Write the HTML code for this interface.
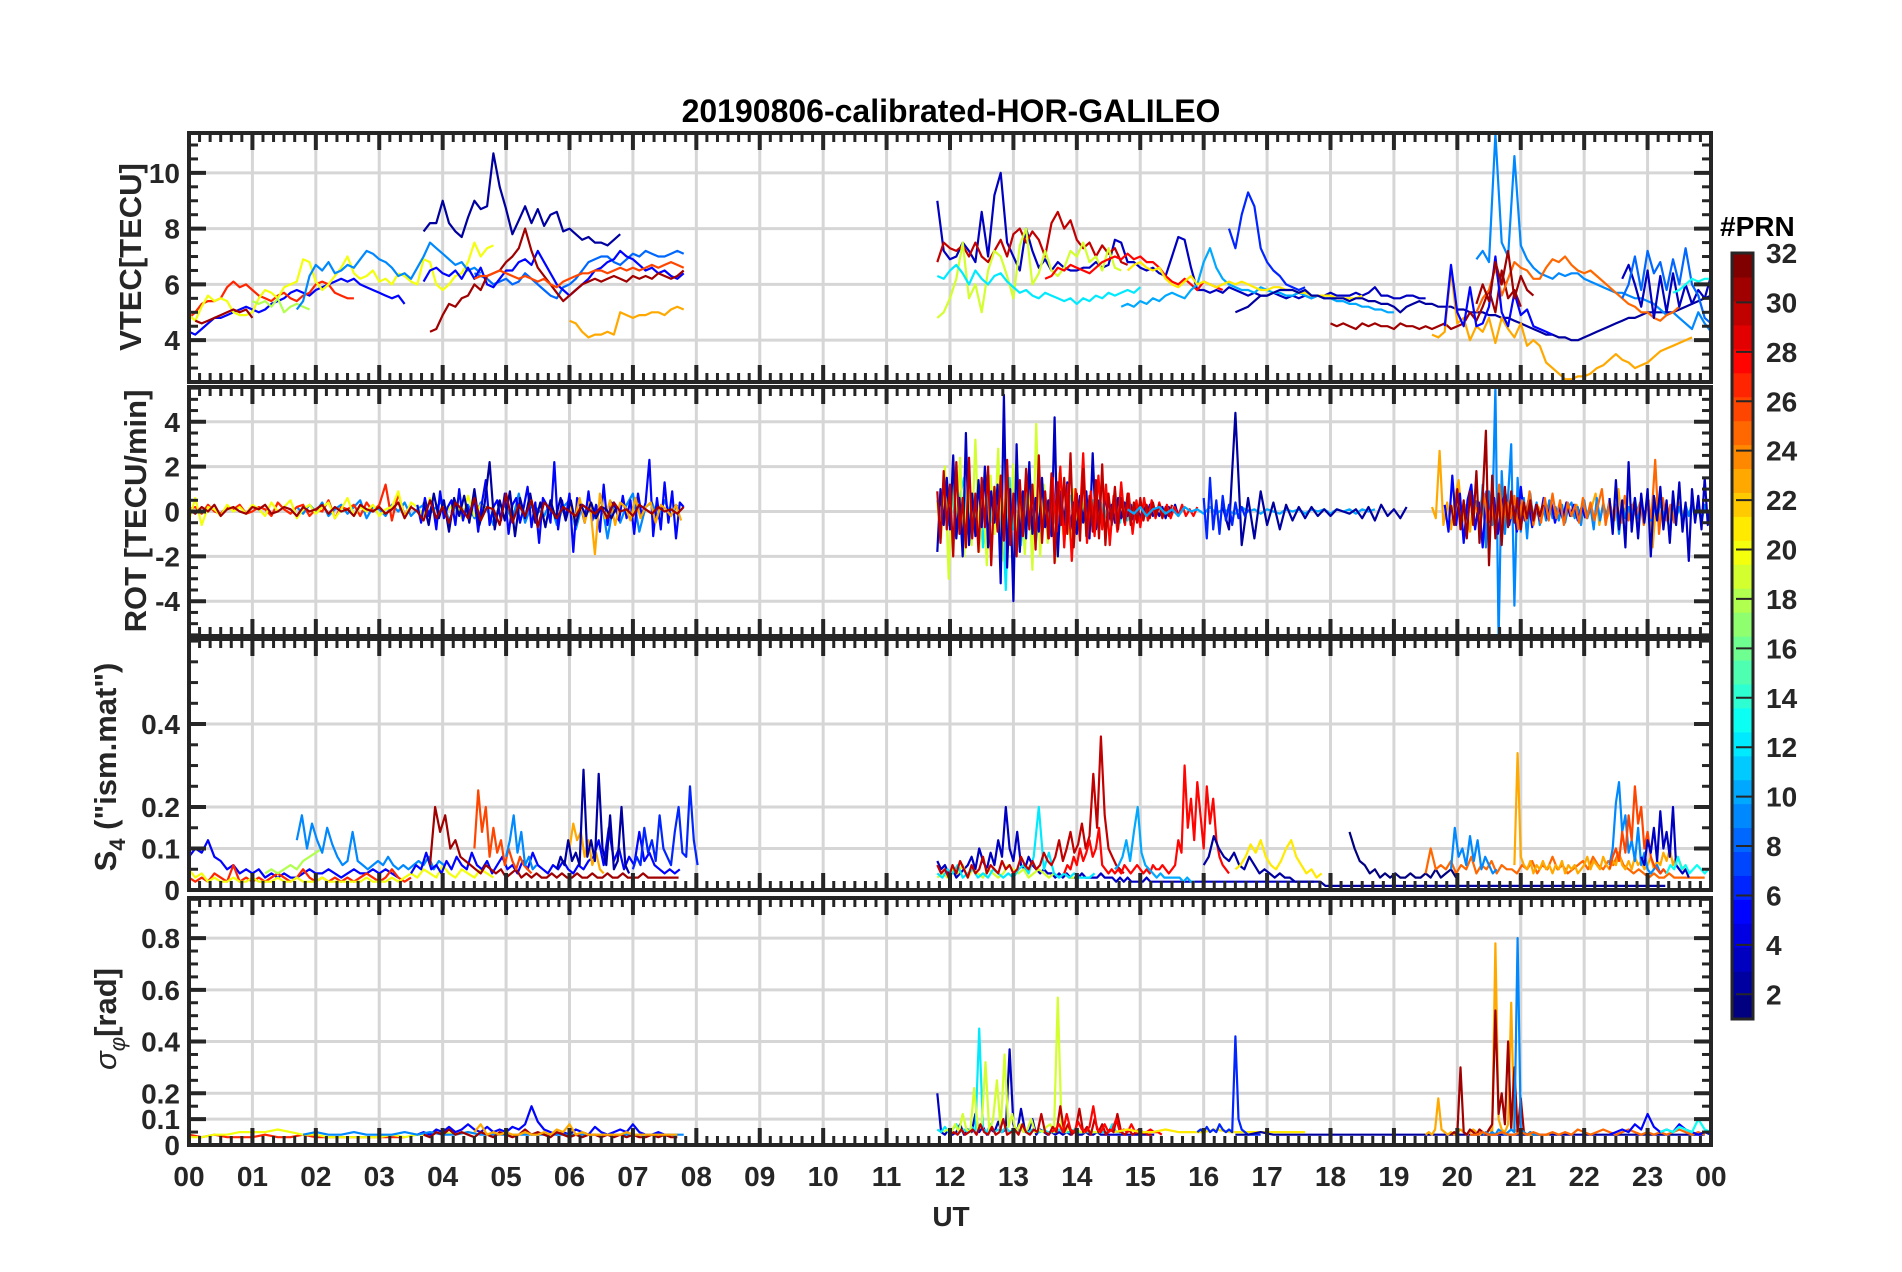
<!DOCTYPE html>
<html><head><meta charset="utf-8"><title>20190806-calibrated-HOR-GALILEO</title>
<style>
html,body{margin:0;padding:0;background:#fff;}
svg{display:block;font-family:"Liberation Sans",Arial,sans-serif;font-weight:bold;}
</style></head>
<body>
<svg id="chart" width="1902" height="1272" viewBox="0 0 1902 1272" xmlns="http://www.w3.org/2000/svg">
<rect x="0" y="0" width="1902" height="1272" fill="#fff"/>
<text x="951" y="122" text-anchor="middle" font-size="32" fill="#000">20190806-calibrated-HOR-GALILEO</text>
<g id="layer"></g>
</svg>
<script>
// ---------- DATA ----------
const hourLabels = ["00","01","02","03","04","05","06","07","08","09","10","11","12","13","14","15","16","17","18","19","20","21","22","23","00"];
const vtecTicks = [4,6,8,10];
const rotTicks = [-4,-2,0,2,4];
const s4Ticks = [0,0.1,0.2,0.4];
const sigTicks = [0,0.1,0.2,0.4,0.6,0.8];
const cbTicks = [2,4,6,8,10,12,14,16,18,20,22,24,26,28,30,32];

// VTEC series
const vtecPrn = [5,27,20,20,31,18,9,8,2,5,31,26,23, 3,30,19,12,28,10,6,21,2,31,23,9,25,5,3,8,13,31];
const vtecT0  = [0,0,0,3.3,0.1,1.0,1.7,4.5,3.7,3.7,3.8,4.5,6.0, 11.8,11.8,11.8,11.8,13.5,14.7,16.4,14.8,16.5,18.0,19.6,20.3,20.3,19.8,22.6,22.6,23.4,20.3];
const vtecDt  = [0.1,0.1,0.1,0.1,0.1,0.1,0.1,0.1,0.1,0.1,0.1,0.1,0.1, 0.1,0.1,0.1,0.1,0.1,0.1,0.1,0.1,0.1,0.1,0.1,0.1,0.1,0.1,0.1,0.1,0.1,0.1];
const vtecVals = [
 [4.3,4.2,4.4,4.6,4.8,4.8,4.9,5.0,5.1,5.2,5.1,5.0,5.1,5.3,5.4,5.5,5.7,5.8,5.7,5.6,5.8,5.9,6.0,6.1,6.2,6.1,6.2,6.0,5.9,5.8,5.7,5.6,5.5,5.6,5.3],
 [4.8,5.0,5.3,5.4,5.4,5.5,5.9,6.1,5.9,6.0,5.8,5.6,5.5,5.4,5.6,5.7,5.5,5.4,5.6,5.7,6.0,6.1,6.0,5.7,5.6,5.5,5.5],
 [4.9,4.7,5.2,5.6,5.4,5.5,5.4,5.0,4.9,4.9,5.0,5.5,5.8,5.7,5.5,5.9,6.0,6.1,6.9,6.8,6.1,5.8,6.0,6.3,6.6,7.0,6.4,6.2,6.3,6.5,6.1,6.2,6.0,6.4],
 [6.4,6.3,6.1,6.0,6.9,6.8,6.0,5.8,6.0,6.3,6.4,6.8,7.5,7.0,7.3,7.4],
 [4.7,4.6,4.7,4.8,4.9,5.0,5.1,5.0,5.1,4.8],
 [5.4,5.3,5.4,5.2,5.5,5.0,5.2,5.3,5.2,5.1],
 [5.1,5.4,6.3,6.7,6.5,6.8,6.4,6.5,6.7,6.6,6.9,7.2,7.1,6.9,6.8,6.6,6.3,6.4,6.2,6.6,7.0,7.5,7.3,7.1,6.9,6.7,6.8,6.5,6.6,6.4],
 [6.4,6.3,6.2,6.0,6.1,6.2,6.0,6.1,6.4,6.2,6.0,5.8,5.6,5.5,5.9,6.0,6.2,6.5,6.8,6.9,7.0,7.0,6.8,6.7,6.9,7.1,7.0,7.2,7.1,7.0,7.0,7.1,7.2,7.1],
 [7.9,8.2,8.2,9.0,8.2,7.9,7.7,8.4,9.0,8.7,8.8,10.7,9.5,8.7,7.8,8.3,8.8,8.2,8.7,8.1,8.5,8.6,7.9,8.0,7.8,7.6,7.7,7.5,7.5,7.4,7.6,7.8],
 [6.1,6.5,6.6,6.4,6.3,6.5,6.2,6.6,6.2,6.6,6.0,5.9,6.2,6.5,6.5,6.8,6.9,6.7,7.2,6.8,6.4,6.0,5.8,5.6,5.8,6.0,6.2,6.5,6.6,6.8,6.9,7.2,7.0,6.9,6.7,6.5,6.6,6.4,6.5,6.3,6.2,6.4],
 [4.3,4.4,4.9,5.3,5.2,5.5,5.6,6.0,5.8,6.3,6.4,6.5,6.8,7.0,7.3,8.0,7.2,6.6,6.3,6.0,5.7,5.4,5.6,5.8,6.0,6.1,6.2,6.1,6.2,6.3,6.2,6.1,6.3,6.2,6.3,6.2,6.4,6.3,6.2,6.3,6.5],
 [6.2,6.3,6.3,6.4,6.5,6.4,6.3,6.2,6.3,6.2,6.1,6.2,6.0,5.9,6.1,6.2,6.3,6.4,6.4,6.5,6.5,6.4,6.5,6.6,6.5,6.6,6.5,6.6,6.7,6.6,6.7,6.8,6.7,6.6],
 [4.7,4.6,4.3,4.1,4.2,4.2,4.3,4.2,5.0,4.9,4.8,4.9,4.9,5.0,5.0,4.9,5.1,5.2,5.1],
 [9.0,7.2,6.9,7.0,7.5,7.2,6.8,8.6,7.0,9.2,10.0,7.5,7.0,6.5,8.0,7.2,6.6,6.9,6.5,6.8,6.6,6.5,6.5,6.6,6.6,6.8,6.6,6.7,7.6,7.5,6.8,6.8,6.6,6.5,6.6,6.4,6.3,7.0,7.7,7.6,6.6,5.8,5.8,5.7,5.8,5.7,5.9,5.8,5.7,5.6,5.7,5.6,5.6,5.7,5.6,5.5,5.6,5.5,5.6,5.5,5.6,5.6,5.7,5.6,5.6,5.6,5.7,5.6,5.7,5.9,5.6,5.6,5.5,5.5,5.6,5.6,5.5,5.5],
 [6.8,7.5,7.3,7.2,7.4,7.0,7.5,7.0,6.8,7.2,7.6,7.0,7.8,8.0,7.5,7.9,7.6,7.0,8.2,8.6,8.0,8.3,7.6,7.3,7.5,7.0,7.4,7.1,7.3,6.8,6.7],
 [4.8,5.0,5.5,6.2,7.5,5.5,6.0,5.0,6.5,7.2,7.0,6.3,5.5,7.4,8.0,6.0,6.4,7.2,6.5,6.3,6.6,7.2,7.0,7.5,6.8,7.0,6.5,7.3,6.6,6.5],
 [6.3,6.2,6.5,6.7,6.4,6.0,6.5,6.2,6.0,6.3,6.4,6.1,5.9,5.7,5.8,5.6,5.5,5.7,5.6,5.5,5.4,5.5,5.3,5.5,5.4,5.6,5.5,5.7,5.6,5.7,5.8,5.7,5.9],
 [6.2,6.3,6.6,6.5,6.7,6.6,6.5,6.4,6.6,6.8,6.9,7.0,6.9,7.1,6.9,7.0,6.8,6.8,6.6,6.3,6.1,6.0,6.2,6.0,5.8,6.1,6.0,5.9,5.8],
 [5.2,5.3,5.2,5.4,5.3,5.5,5.4,5.6,5.7,5.6,5.5,5.8,6.0,6.8,7.3,6.6,6.2,6.0,5.9,5.8,5.8,5.7,5.9,5.8,5.7,5.7,5.6,5.6,5.7,5.6,5.5,5.6,5.5,5.5,5.4,5.4,5.3,5.3,5.2,5.2,5.1,5.1,5.0,5.0],
 [8.0,7.3,8.5,9.3,8.8,7.3,6.8,6.5,6.3,6.0,5.9,5.8,5.9],
 [6.5,6.7,6.8,6.6,6.5,6.6,6.2,6.0,5.9,6.1,6.3,6.0,6.1,6.0,5.9,6.0,6.1,6.0,6.1,6.0,5.9,5.8,5.8,5.9,5.9,5.8,5.8,5.7,5.7,5.6,5.6,5.6,5.6,5.5,5.5,5.5,5.5,5.6],
 [5.0,5.1,5.2,5.4,5.6,5.6,5.7,5.8,5.8,5.8,5.7,5.8,5.6,5.6,5.5,5.5,5.5,5.5,5.4,5.5,5.5,5.4,5.4,5.3,5.3,5.2,5.0,5.2,5.3,5.4,5.3,5.3,5.2,5.2,5.2,5.1,5.1,5.0,5.0,5.0,4.9,4.9,4.8,4.8,4.7,4.6,4.5,4.4,4.3,4.2,4.2,4.1,4.1,4.0,4.0,4.1,4.2,4.3,4.4,4.5,4.6,4.7,4.8,4.8,4.9,5.0,5.0,5.0,5.0,5.0,5.1,5.2,5.3,5.4,5.5,5.6],
 [4.6,4.5,4.6,4.5,4.4,4.6,4.5,4.6,4.5,4.5,4.4,4.6,4.5,4.5,4.4,4.5,4.4,4.5,4.6,4.4,4.5,4.6,5.0,4.7,5.2,5.8,5.0,6.5,5.5,5.8,5.2],
 [4.2,4.1,4.3,6.5,4.6,4.8,4.0,4.5,4.3,4.8,3.9,4.8,4.4,4.1,4.6,3.8,4.0,3.8,3.2,3.0,2.8,2.6,2.6,2.7,2.7,2.8,3.0,3.1,3.3,3.5,3.3,3.2,3.0,3.1,3.2,3.4,3.6,3.7,3.8,3.9,4.0,4.1],
 [6.9,7.2,6.8,11.4,7.5,7.0,10.6,7.4,6.9,6.6,6.4,6.3,6.2,6.4,6.3,6.4,6.4,6.2,6.1,6.0,5.9,5.8,5.7,5.7,5.6,5.5,5.5,5.4,5.3,5.1,4.9,5.0,4.8,4.6,4.4,5.0,4.6,4.3],
 [5.0,5.5,5.8,6.6,5.6,6.2,6.8,6.6,6.5,6.2,6.2,6.6,6.9,6.8,7.0,6.7,6.5,6.4,6.5,6.3,6.1,5.9,5.7,5.5,5.3,5.2,5.0,5.0,4.8,4.7,4.9,5.0,5.2],
 [4.5,6.7,5.0,4.5,5.9,4.5,4.6,5.2,7.0,5.0,4.5,5.7,4.9,5.1,4.5,4.4,4.3,4.2],
 [6.2,6.7,6.0,5.2,6.5,4.8,6.3,5.0,6.4,5.2,6.0,5.3,5.8,5.5,6.3],
 [5.5,6.0,7.0,5.8,7.2,6.4,6.8,5.8,6.9,6.0,7.3,6.0,5.6,4.8,4.6],
 [5.7,5.8,6.0,6.2,6.1,6.2,6.2],
 [5.3,6.0,5.4,6.8,6.0,7.2,5.5,6.3,5.8,5.6]
];

// ROT series
const rotPrn = [9,27,20,5,23,2,31, 12,19,3,28,30, 10,2,6, 23,9,5,25,31,3];
const rotT0  = [1.7,0,0,3.6,6.0,3.7,0, 11.8,11.8,11.8,13.5,11.8, 14.8,16.3,16.0, 19.6,20.3,19.8,20.3,19.9,22.4];
const rotDt  = [0.1,0.1,0.1,0.06,0.08,0.08,0.1, 0.06,0.06,0.05,0.06,0.05, 0.1,0.1,0.05, 0.06,0.05,0.06,0.06,0.05,0.05];
const rotVals = [
 [0.2,-0.1,0.3,0.0,0.4,-0.2,0.1,0.3,-0.1,0.2,0.5,-0.3,0.2,0.1,-0.2,0.3,0.0,0.4,-0.2,0.1,0.3,-0.1,0.2,0.5,-0.4,0.2,0.0,0.3,-0.3,0.4,0.1,-0.6,0.3,0.2,-0.4,0.8,-0.5,0.3,0.1,-0.2,0.4,-0.6,0.2,0.5,-0.8,0.3,0.1,-0.3,0.6,-1.2,0.4,-0.5,0.3,0.8,-0.9,0.2,0.4,-0.3,0.5,-0.2,0.3],
 [0.1,0.2,-0.1,0.3,0.0,-0.1,0.2,0.1,0.3,-0.1,0.0,0.2,0.1,-0.2,0.4,0.1,-0.1,0.2,0.3,-0.2,0.1,0.0,0.5,-0.3,0.2,0.1,0.3,-0.2,0.4,0.0,0.3,1.2,-0.4,0.8,-0.2,0.3],
 [-0.4,0.6,-0.6,0.2,0.1,-0.2,0.3,0.0,0.2,-0.1,0.3,0.1,-0.2,0.4,0.0,0.2,0.5,-0.3,0.1,0.3,-0.1,0.2,0.4,-0.3,0.1,0.6,-0.2,0.2,0.0,0.3,-0.2,0.1,0.2,0.9,-0.3,0.4,0.2,-0.2,0.6,-0.4,0.3,0.1,0.5,-0.3,0.7,-0.2,0.3,0.1,0.2],
 [0.3,-0.5,0.6,-0.2,0.4,-0.8,0.9,-0.3,0.2,0.5,-0.6,1.0,-0.4,0.3,-0.2,0.6,-0.9,0.4,1.4,-0.6,0.2,0.5,-0.4,0.8,-1.0,0.3,0.6,-0.5,0.2,1.1,-0.7,0.4,-1.4,0.6,0.3,-0.5,2.2,-0.8,0.5,-0.3,0.8,-1.8,0.6,0.2,-0.5,0.9,-0.4,0.3,-0.9,1.2,-0.6,0.4,0.2,-0.4,0.7,-0.3,0.5,-1.0,0.8,-0.2,0.4,2.3,-1.1,0.6,-0.8,1.3,-0.5,0.9,-1.2,0.4,0.2],
 [0.3,-0.4,0.6,-0.5,0.4,-1.9,0.8,-0.3,0.5,-0.6,0.4,0.2,-0.4,0.6,-0.3,0.2,0.4,-0.5,0.3,0.1,-0.2,0.3,-0.4],
 [0.4,-0.6,0.8,-0.3,0.5,-0.9,0.6,-0.2,0.7,-0.5,1.0,-0.6,0.3,2.2,-0.8,0.5,-0.4,0.9,-1.1,0.6,-0.3,0.8,-0.5,0.4,-0.7,0.5,-0.3,0.6,-0.4,0.5,-0.6,0.3,-0.2,0.4,-0.3,0.2,0.1,-0.3,0.2],
 [0.1,-0.1,0.2,0.0,0.3,-0.2,0.1,0.2,0.0,-0.1,0.2,0.1,0.3,-0.1,0.0,0.2,0.1,-0.2,0.2,0.0,0.1,0.3,-0.1,0.2,0.0,0.1,-0.2,0.3,0.1,0.0,0.2,-0.1,0.1,0.4,-0.3,0.2,0.0,-0.4,0.5,-0.3,0.2,-0.5,0.4,0.1,-0.3,0.6,-0.4,0.2,0.1,-0.6,0.8,-0.5,0.3,-0.2,0.5,-0.7,0.4,0.1,-0.3,0.2,0.0,-0.2,0.3,0.1,-0.1,0.2,-0.3,0.4,0.0,0.1,-0.2,0.3,0.1,-0.1,0.2,0.0,0.1,-0.1,0.2],
 [0.5,-0.8,1.0,-0.6,0.9,-1.2,0.7,1.5,-1.0,0.6,-0.4,1.2,-1.6,0.8,-0.5,1.0,-0.9,0.6,-3.5,1.5,-0.8,1.2,-1.5,0.9,-0.6,1.1,-1.3,0.5,0.8,-0.7,0.9,-0.5,0.6,-0.8,0.4,0.7,-0.6,0.5,-0.4,0.6,-0.3,0.5,-0.7,0.4,-0.3,0.5,-0.2,0.4,-0.5,0.3,-0.4,0.3,-0.2,0.3],
 [0.4,-1.2,2.0,-3.0,1.6,-0.8,2.4,-2.0,1.2,-1.5,3.2,-1.8,0.9,-2.4,1.6,-1.0,2.8,-2.2,1.3,-0.9,2.1,-1.6,0.8,-1.9,1.4,-2.6,3.9,-2.0,1.2,-1.4,0.9,-2.2,1.7,-1.0,0.6,-1.3,1.0,-0.8,0.5,-0.6],
 [-1.8,1.0,-0.6,1.5,-0.8,2.5,-1.2,0.6,-2.0,3.5,-1.5,0.8,-1.1,1.4,-0.7,2.0,-1.6,0.9,-0.5,1.2,-3.2,5.2,-2.5,1.0,-4.0,3.0,-1.8,0.9,-1.2,2.2,-1.0,0.6,-0.9,1.5,-0.7,0.5,-1.1,4.2,-2.0,0.9,-0.6,1.3,-0.8,0.4,-1.0,0.7,-0.5,0.9,-1.2,2.6,-0.8,0.5,-0.6,0.8,-0.4,0.3,-0.5,0.6,-0.3,0.4,-0.2,0.3,-0.4,0.2,-0.3,0.2,-0.2,0.3,-0.2,0.1,-0.2,0.2,-0.3,0.2,-0.1,0.3,-0.2,0.1],
 [0.8,-1.2,1.5,-0.9,2.0,-1.6,1.2,-2.2,1.0,-0.7,2.6,-1.4,0.9,-1.1,1.6,-0.8,1.2,-1.5,0.7,-0.9,1.3,-0.6,0.8,-1.0,0.5,-0.7,0.6,-0.4,0.5,-0.3,0.4,-0.2,0.3,-0.3,0.2,-0.2,0.3,-0.2,0.1,-0.2,0.2],
 [0.9,-1.4,1.8,-0.8,1.2,-2.0,2.2,-1.0,0.6,-1.6,2.4,-1.2,0.8,-1.8,1.5,-0.7,2.0,-2.4,1.1,-0.9,1.6,-1.3,2.3,-1.5,0.8,-2.0,1.4,-1.1,1.9,-0.8,1.2,-1.7,2.5,-1.4,0.9,-1.2,1.7,-2.3,1.3,-0.6,1.5,-1.0,2.6,-1.6,0.8,-1.3,1.9,-1.1,0.7,-0.9,1.4,-1.2,2.1,-1.5,0.8,-0.6,1.1,-0.8,0.6,-0.5,0.8,-0.6,0.4,-0.5,0.6,-0.4,0.3,-0.3,0.4,-0.2,0.3,-0.3,0.2,-0.2,0.3],
 [0.1,-0.1,0.2,-0.2,0.1,0.2,-0.1,0.1,-0.2,0.2,0.0,0.1,-0.1,0.2,-0.1,0.1,0.0,-0.1,0.2,0.0,0.1,-0.1,0.1,0.0,-0.1,0.1,0.0,0.1,-0.1,0.1,0.0,0.1,-0.1,0.1,0.0,0.1,-0.1,0.1,0.0,0.1],
 [0.2,-0.8,4.4,-1.5,0.6,-1.2,0.9,-0.6,0.4,-0.8,0.3,-0.4,0.2,-0.3,0.2,-0.2,0.1,-0.2,0.1,0.0,-0.1,0.1,-0.3,0.2,-0.4,0.3,-0.2,0.1,-0.3,0.2],
 [0.6,-1.2,1.5,-0.8,0.5,-1.0,0.7,-0.4,0.3,-0.6,0.4,-0.3,0.2,-0.2,0.1],
 [0.2,-0.3,2.7,-0.6,0.4,-0.8,0.6,1.4,-0.5,0.3,-0.9,0.7,-0.3,0.5,-0.6,0.4,-0.2,0.3,-0.4,0.2,0.5,-0.3,0.2,-0.4,0.3,-0.2,0.4,-0.3,0.2,-0.2,0.3,-0.1,0.2,-0.3,0.2,-0.2,0.1,-0.2,0.3,-0.1,0.2,-0.2,0.2,0.8,-0.6,0.4,-0.3,0.2,-0.4,1.0,-0.5,0.2,-0.3,0.4,-0.6,0.3,-0.2,0.5,-1.6,0.6,-0.4,0.3,-0.5,0.2,-0.3,0.4,-0.2],
 [0.5,-0.8,1.2,-1.6,0.9,-0.6,5.6,-5.8,1.8,-1.0,0.7,3.0,-4.2,1.5,-0.9,0.6,-1.2,0.8,-0.5,0.4,-0.6,0.3,-0.4,0.5,-0.3,0.2,-0.4,0.3,-0.5,0.2,0.4,-0.3,0.2,-0.6,0.5,-0.3,0.2,-0.8,0.6,-0.4,0.3,-0.2,0.5,-0.6,0.3,-1.0,0.4,-0.3,0.2,-0.5,0.6,-0.3,0.4,-0.2,0.3,-0.4,0.2,-0.3,0.4,-0.2,0.3,-1.2,0.5,-0.3,0.2,-0.4,0.3,-0.2,0.4,-0.3,0.2,-0.5,0.3,-0.2],
 [0.3,-0.9,1.6,-0.6,0.8,-1.4,0.5,1.2,-0.8,0.4,-1.6,0.9,-0.5,0.6,-1.0,0.4,0.8,-0.6,0.3,-0.9,1.1,-0.4,0.5,-0.7,0.3,-0.4,0.6,-0.3,0.4,-0.5,0.2,-0.3,0.4,-0.2,0.3,-0.4,0.2,-0.3],
 [0.2,-0.4,0.8,-0.5,0.3,-0.9,1.2,-0.6,0.4,-0.3,0.7,-0.8,0.5,-0.4,0.9,-0.6,0.3,-0.5,0.6,-0.4,0.8,-0.3,0.5,-0.6,0.4,-0.2,0.3,-0.5,0.6,-0.3,0.4,-0.4,0.3,1.0,-0.6,0.5,-0.4,0.3,-0.5,0.7,-0.4,0.3,-0.2,0.4,-0.6,0.5,-0.3,2.3,-1.0,0.6,-0.4,0.3,-0.5,0.4],
 [0.3,-0.6,1.0,-0.8,0.5,-1.2,0.9,-0.6,1.8,-1.4,0.7,3.6,-2.4,1.6,-1.2,0.8,-1.5,1.1,-0.7,0.9,-0.5,0.6,-0.8,0.4,-0.3,0.5,-0.4,0.3,-0.2,0.3],
 [0.6,-1.0,1.4,-0.8,0.5,-1.6,2.2,-0.9,0.6,-1.2,0.8,-0.5,1.0,-2.0,0.7,-0.4,1.1,-0.8,0.5,-1.4,0.9,-0.6,1.3,-0.9,0.4,-2.2,1.0,-0.5,0.7,-0.8,1.5,-0.6,0.4,-1.1,0.8,-0.4,0.6,-0.9,0.5,-0.3,0.7,-0.6,0.4,-1.0,0.6,-0.3,0.5,-0.4,0.3,-0.6,0.4,-0.2]
];

// S4 series
const s4Prn = [5,27,20,18,9,5,31,26,9,23,2,6, 3,19,12,30,28,10,2,21,1,25,9,23,9,26,3,13];
const s4T0  = [0,0,0,1.2,1.7,3.5,3.8,4.5,5.0,6.0,5.8,7.0, 11.8,11.8,11.8,11.8,13.8,14.6,16.0,16.5,18.3,19.5,19.9,20.9,22.4,22.4,22.9,23.3];
const s4Dt  = [0.1,0.1,0.1,0.1,0.08,0.08,0.08,0.06,0.06,0.06,0.06,0.06, 0.06,0.08,0.08,0.06,0.05,0.06,0.08,0.08,0.08,0.08,0.06,0.05,0.05,0.05,0.05,0.06];
const s4Vals = [
 [0.08,0.10,0.09,0.12,0.08,0.07,0.05,0.06,0.04,0.05,0.04,0.05,0.03,0.04,0.03,0.04,0.03,0.03,0.04,0.05,0.04,0.04,0.05,0.04,0.03,0.04,0.05,0.04,0.04,0.05,0.04,0.05,0.04,0.03],
 [0.03,0.02,0.03,0.02,0.04,0.03,0.02,0.06,0.02,0.03,0.02,0.03,0.02,0.03,0.04,0.03,0.02,0.03,0.05,0.03,0.02,0.03,0.02,0.03,0.02,0.03,0.02,0.03,0.04,0.03,0.02,0.03,0.05,0.03,0.02,0.03],
 [0.05,0.03,0.04,0.02,0.03,0.02,0.02,0.03,0.02,0.02,0.03,0.02,0.02,0.02,0.03,0.02,0.02,0.03,0.02,0.02,0.02,0.03,0.02,0.02,0.02,0.02,0.02,0.02,0.03,0.02,0.02,0.02,0.03,0.02,0.03,0.04,0.03,0.05,0.04,0.03,0.06,0.04,0.03,0.05,0.04,0.03,0.05,0.04,0.03],
 [0.04,0.05,0.04,0.05,0.06,0.05,0.07,0.08,0.09,0.10],
 [0.12,0.18,0.10,0.16,0.12,0.09,0.15,0.11,0.08,0.06,0.07,0.14,0.07,0.06,0.05,0.06,0.07,0.06,0.08,0.06,0.05,0.06,0.05,0.06,0.07,0.06,0.08,0.05,0.07,0.06],
 [0.04,0.06,0.05,0.09,0.05,0.06,0.04,0.07,0.05,0.08,0.06,0.05,0.09,0.06,0.05,0.07,0.04,0.06,0.08,0.05,0.06,0.04,0.07,0.05,0.09,0.06,0.05,0.04,0.06,0.05,0.07,0.05,0.04,0.06,0.05,0.07,0.08,0.12,0.06,0.15,0.07,0.10,0.05,0.08,0.06,0.14,0.07,0.09,0.06,0.05,0.04,0.05,0.04,0.05],
 [0.06,0.20,0.14,0.18,0.10,0.12,0.08,0.07,0.06,0.05,0.04,0.06,0.05,0.04,0.05,0.03,0.04,0.05,0.03,0.04,0.03,0.04,0.03,0.03,0.04,0.03,0.04,0.03,0.03,0.04,0.03,0.03,0.04,0.03,0.03,0.04,0.03,0.03,0.04,0.03,0.03,0.03,0.04,0.03,0.03,0.03,0.03,0.03,0.03,0.03],
 [0.10,0.24,0.14,0.20,0.08,0.15,0.09,0.12,0.06,0.10,0.07,0.05,0.08,0.06,0.05,0.04],
 [0.08,0.12,0.18,0.09,0.14,0.06,0.08,0.05,0.06],
 [0.10,0.16,0.12,0.14,0.08,0.12,0.06,0.09,0.05,0.04],
 [0.05,0.08,0.06,0.12,0.07,0.09,0.06,0.29,0.08,0.12,0.07,0.28,0.10,0.06,0.18,0.05,0.07,0.20,0.06,0.04],
 [0.05,0.08,0.06,0.15,0.09,0.12,0.07,0.18,0.10,0.08,0.06,0.14,0.20,0.09,0.08,0.25,0.12,0.06],
 [0.07,0.05,0.06,0.04,0.05,0.03,0.04,0.05,0.06,0.08,0.05,0.10,0.07,0.05,0.09,0.06,0.12,0.08,0.20,0.10,0.07,0.14,0.06,0.05,0.08,0.06,0.05,0.04,0.05,0.04,0.04,0.03,0.04,0.03,0.04,0.03,0.03,0.03,0.04,0.03,0.03,0.03,0.03,0.04,0.03,0.03,0.03,0.02,0.03,0.02,0.03,0.02,0.02,0.02,0.02,0.03,0.02,0.02,0.02,0.02,0.02,0.02,0.02,0.02,0.02,0.02,0.02,0.02,0.02,0.02,0.02,0.02,0.02,0.02,0.02,0.02,0.02,0.02,0.02,0.02,0.02,0.02,0.02,0.02,0.02,0.02,0.02,0.02,0.02,0.02,0.02,0.02,0.02,0.02,0.02,0.02,0.02,0.02,0.02,0.02],
 [0.03,0.04,0.03,0.05,0.04,0.06,0.03,0.05,0.04,0.03,0.05,0.04,0.03,0.04,0.06,0.05,0.04,0.05,0.03,0.04,0.05,0.04,0.03,0.04,0.03,0.04,0.03,0.03],
 [0.04,0.03,0.05,0.04,0.06,0.03,0.04,0.05,0.03,0.04,0.03,0.05,0.04,0.03,0.04,0.03,0.05,0.06,0.04,0.08,0.20,0.05,0.09,0.04,0.03,0.04,0.03,0.04,0.03,0.03,0.03,0.04],
 [0.06,0.04,0.05,0.03,0.06,0.04,0.07,0.05,0.03,0.06,0.04,0.05,0.08,0.04,0.06,0.05,0.04,0.07,0.05,0.06,0.04,0.05,0.08,0.06,0.05,0.07,0.05,0.06,0.09,0.07,0.06,0.08,0.12,0.07,0.10,0.14,0.09,0.11,0.16,0.10,0.13,0.28,0.15,0.37,0.18,0.10,0.08,0.06,0.05,0.04],
 [0.04,0.06,0.05,0.08,0.06,0.10,0.07,0.09,0.12,0.08,0.10,0.15,0.06,0.05,0.04,0.05,0.04,0.05,0.04,0.06,0.05,0.04,0.05,0.06,0.05,0.04,0.05,0.04,0.06,0.05,0.05,0.06,0.05,0.04,0.05,0.06,0.12,0.09,0.30,0.15,0.22,0.12,0.26,0.18,0.10,0.25,0.16,0.22,0.12,0.08,0.06,0.05,0.04],
 [0.05,0.06,0.08,0.12,0.07,0.14,0.20,0.09,0.06,0.05,0.04,0.03,0.04,0.03,0.03,0.03,0.03,0.03,0.02,0.03,0.02,0.02],
 [0.06,0.08,0.13,0.10,0.08,0.07,0.09,0.06,0.05,0.08,0.06,0.04,0.05,0.04,0.03,0.04,0.03,0.03,0.02,0.02,0.02,0.02,0.02,0.02,0.01,0.01,0.01,0.01,0.01,0.01,0.01,0.01,0.01,0.01,0.01,0.01,0.01,0.01,0.01,0.01,0.01,0.01,0.01,0.01,0.01,0.01,0.01,0.01,0.01,0.01,0.01,0.01,0.01,0.01,0.01,0.01,0.01,0.01,0.01,0.01,0.01,0.01,0.01,0.01,0.01,0.01,0.01,0.01,0.01,0.01,0.01,0.01,0.01,0.01,0.01,0.01,0.01,0.01,0.01,0.01,0.01,0.01,0.01,0.01,0.01,0.01,0.01,0.01,0.01,0.01,0.01,0.01],
 [0.05,0.06,0.08,0.11,0.09,0.12,0.08,0.06,0.05,0.07,0.10,0.12,0.08,0.06,0.04,0.05,0.03,0.04],
 [0.14,0.10,0.07,0.06,0.04,0.05,0.03,0.04,0.03,0.04,0.03,0.03,0.04,0.03,0.03,0.04,0.03,0.05,0.03,0.04,0.05,0.03],
 [0.04,0.10,0.05,0.06,0.05,0.07,0.04,0.06,0.05,0.08,0.04,0.06,0.05,0.07,0.04,0.06,0.05,0.05,0.04,0.06,0.05,0.07,0.04,0.06,0.05,0.08,0.05,0.06,0.04,0.05,0.06,0.07,0.05,0.08,0.06,0.05,0.07,0.06,0.09,0.06,0.05,0.04,0.05,0.04,0.03,0.04,0.03,0.03,0.04,0.03,0.03,0.03,0.03,0.03,0.03,0.03],
 [0.05,0.15,0.08,0.10,0.06,0.13,0.07,0.12,0.05,0.08,0.06,0.04,0.05],
 [0.06,0.33,0.08,0.06,0.05,0.07,0.04,0.06,0.05,0.07,0.05,0.06,0.04,0.06,0.05,0.07,0.04,0.06,0.05,0.06,0.04,0.05,0.06,0.08,0.05,0.07,0.06,0.05,0.08,0.06,0.05,0.07,0.06,0.09,0.06,0.05,0.07,0.05,0.08,0.06,0.07,0.05,0.06,0.08,0.05,0.07,0.06,0.09,0.07,0.10,0.06,0.08,0.07,0.05,0.06],
 [0.06,0.10,0.21,0.26,0.14,0.18,0.09,0.12,0.07,0.15,0.06,0.09,0.05,0.04,0.05,0.06,0.04,0.05],
 [0.05,0.08,0.10,0.07,0.14,0.09,0.18,0.12,0.25,0.16,0.20,0.10,0.14,0.08,0.06,0.05,0.04,0.05,0.04],
 [0.08,0.06,0.12,0.09,0.15,0.07,0.19,0.10,0.14,0.08,0.20,0.06,0.05,0.04,0.05,0.03],
 [0.04,0.06,0.05,0.08,0.05,0.06,0.04,0.05,0.06,0.05,0.04,0.05]
];

// Sigma-phi series
const sigPrn = [27,20,5,9,31,23, 3,12,19,30,28,21,6,2,23,31,9,25,5,13];
const sigT0  = [0,0,3.6,1.8,3.7,4.5, 11.8,11.8,11.9,12.0,13.6,14.6,15.9,16.5,19.5,19.9,20.4,20.2,22.4,23.2];
const sigDt  = [0.2,0.2,0.1,0.2,0.1,0.1, 0.06,0.06,0.06,0.06,0.06,0.2,0.05,0.2,0.05,0.05,0.05,0.1,0.1,0.1];
const sigVals = [
 [0.04,0.03,0.04,0.03,0.03,0.03,0.04,0.03,0.03,0.04,0.03,0.03,0.03,0.03,0.03,0.03,0.03,0.03],
 [0.03,0.03,0.04,0.04,0.05,0.05,0.05,0.06,0.05,0.04,0.04,0.03,0.03,0.03,0.03,0.03,0.04,0.03,0.04,0.04,0.05,0.04,0.05,0.04],
 [0.04,0.05,0.04,0.06,0.05,0.07,0.05,0.06,0.08,0.06,0.05,0.07,0.05,0.06,0.05,0.07,0.06,0.08,0.15,0.09,0.06,0.05,0.04,0.05,0.04,0.06,0.05,0.04,0.07,0.05,0.04,0.05,0.06,0.05,0.08,0.05,0.04,0.04,0.05,0.04,0.04,0.04],
 [0.04,0.05,0.04,0.04,0.05,0.04,0.04,0.04,0.05,0.04,0.05,0.04,0.04,0.05,0.04,0.04,0.04,0.04,0.04,0.04,0.04,0.04,0.04,0.04,0.04,0.04,0.04,0.04,0.04,0.04,0.04],
 [0.04,0.03,0.05,0.04,0.06,0.04,0.05,0.04,0.03,0.05,0.04,0.03,0.05,0.04,0.03,0.04,0.06,0.04,0.05,0.04,0.03,0.05,0.04,0.03,0.04,0.03,0.04,0.04,0.03,0.04,0.03,0.04,0.03,0.04,0.03,0.03,0.04,0.03,0.04,0.03,0.03],
 [0.05,0.08,0.04,0.05,0.04,0.05,0.04,0.04,0.05,0.04,0.04,0.05,0.04,0.06,0.05,0.08,0.04,0.05,0.04,0.04,0.04,0.04,0.04,0.04,0.05,0.04,0.04,0.04,0.04,0.04,0.04,0.04,0.04],
 [0.20,0.05,0.04,0.06,0.04,0.05,0.08,0.04,0.06,0.05,0.12,0.05,0.07,0.04,0.06,0.05,0.09,0.05,0.06,0.37,0.08,0.05,0.14,0.06,0.05,0.10,0.04,0.06,0.05,0.04,0.05,0.04,0.05,0.04,0.05,0.04,0.05,0.04,0.04,0.05,0.04,0.04,0.05,0.04,0.04,0.04,0.04,0.04,0.04,0.04,0.04,0.04,0.04,0.04,0.04,0.04,0.04,0.04],
 [0.06,0.05,0.07,0.05,0.06,0.08,0.05,0.06,0.05,0.07,0.05,0.45,0.06,0.05,0.08,0.05,0.06,0.05,0.07,0.05,0.06,0.05,0.06,0.05,0.05,0.06,0.05,0.05,0.06,0.05,0.05,0.05,0.06,0.05,0.05,0.05,0.06,0.05,0.05,0.05,0.05,0.05,0.05,0.05,0.05,0.05,0.08,0.05,0.05,0.05],
 [0.05,0.06,0.05,0.08,0.05,0.12,0.06,0.05,0.22,0.06,0.08,0.32,0.05,0.10,0.25,0.06,0.35,0.07,0.12,0.05,0.08,0.05,0.06,0.10,0.05,0.06,0.05,0.07,0.08,0.05,0.57,0.06,0.05,0.07,0.05,0.06,0.05,0.05,0.06,0.05,0.05,0.05],
 [0.04,0.05,0.04,0.06,0.04,0.05,0.06,0.04,0.08,0.05,0.04,0.07,0.04,0.05,0.10,0.04,0.05,0.06,0.04,0.08,0.05,0.04,0.06,0.05,0.12,0.05,0.04,0.07,0.05,0.15,0.05,0.08,0.04,0.06,0.14,0.05,0.07,0.04,0.10,0.05,0.08,0.04,0.06,0.05,0.12,0.05,0.04,0.06,0.04,0.05,0.04,0.05,0.04,0.04],
 [0.05,0.06,0.08,0.05,0.12,0.06,0.05,0.09,0.06,0.05,0.07,0.15,0.06,0.05,0.08,0.05,0.06,0.10,0.05,0.06,0.05,0.08,0.05,0.06,0.05,0.05,0.06,0.05,0.05,0.04],
 [0.05,0.06,0.05,0.05,0.06,0.05,0.05,0.05,0.06,0.05,0.05,0.05,0.05,0.05,0.05,0.05],
 [0.05,0.06,0.05,0.07,0.05,0.06,0.05,0.08,0.06,0.05,0.06,0.05,0.42,0.10,0.06,0.05,0.04,0.04,0.04,0.04,0.04],
 [0.04,0.04,0.05,0.04,0.04,0.04,0.04,0.04,0.04,0.04,0.04,0.04,0.04,0.04,0.04,0.04,0.04,0.04,0.04,0.04,0.04,0.04,0.04,0.04,0.04,0.04,0.04,0.04,0.04,0.04,0.04,0.04,0.04,0.04,0.04,0.04,0.04,0.04],
 [0.04,0.05,0.04,0.06,0.18,0.06,0.05,0.04,0.05,0.04,0.05,0.06,0.05,0.04,0.05,0.06,0.05,0.04,0.05,0.04,0.06,0.05,0.78,0.10,0.06,0.05,0.08,0.55,0.06,0.05,0.04,0.05,0.04,0.04,0.04,0.04,0.04,0.04,0.04,0.04],
 [0.04,0.05,0.04,0.30,0.05,0.04,0.06,0.05,0.04,0.06,0.05,0.04,0.06,0.08,0.52,0.12,0.20,0.08,0.40,0.06,0.30,0.05,0.18,0.05,0.04,0.05,0.04,0.04,0.04,0.04],
 [0.04,0.05,0.04,0.05,0.04,0.06,0.05,0.04,0.05,0.06,0.05,0.80,0.06,0.05,0.04,0.05,0.04,0.04,0.04,0.04],
 [0.04,0.04,0.05,0.04,0.04,0.05,0.04,0.04,0.05,0.04,0.05,0.04,0.04,0.05,0.04,0.05,0.04,0.06,0.05,0.04,0.05,0.06,0.05,0.04,0.05,0.06,0.05,0.04,0.05,0.04,0.05,0.04,0.05,0.06,0.05,0.04,0.05,0.04],
 [0.04,0.05,0.06,0.05,0.08,0.06,0.12,0.07,0.05,0.06,0.05,0.08,0.06,0.05,0.04,0.05,0.04],
 [0.05,0.06,0.05,0.07,0.06,0.05,0.10,0.06,0.05]
];

// ---------- LAYOUT / RENDER ----------
const NS = "http://www.w3.org/2000/svg";
const layer = document.getElementById("layer");
const X0 = 189, X1 = 1711;
function xs(t){ return X0 + t/24*(X1-X0); }
function jet(p){
  const v = (p-1)/31;
  const c = k => Math.round(255*Math.max(0,Math.min(1,1.5-Math.abs(4*v-k))));
  return "rgb("+c(3)+","+c(2)+","+c(1)+")";
}
function mk(tag, attrs, parent){
  const e = document.createElementNS(NS, tag);
  for (const k in attrs) e.setAttribute(k, attrs[k]);
  (parent||layer).appendChild(e);
  return e;
}
const panels = [
  {name:"vtec", top:133, bot:382, ymin:2.5, ymax:11.43, ticks:vtecTicks, minor:0.5, fmt:v=>String(v),
   prn:vtecPrn, t0:vtecT0, dt:vtecDt, vals:vtecVals},
  {name:"rot", top:387, bot:636, ymin:-5.55, ymax:5.55, ticks:rotTicks, minor:0.5, fmt:v=>String(v),
   prn:rotPrn, t0:rotT0, dt:rotDt, vals:rotVals},
  {name:"s4", top:639, bot:890, ymin:0, ymax:0.605, ticks:s4Ticks, minor:0.05, fmt:v=>v===0?"0":String(v),
   prn:s4Prn, t0:s4T0, dt:s4Dt, vals:s4Vals},
  {name:"sigma", top:898, bot:1145, ymin:0, ymax:0.955, ticks:sigTicks, minor:0.05, fmt:v=>v===0?"0":String(v),
   prn:sigPrn, t0:sigT0, dt:sigDt, vals:sigVals}
];
const AX = "#262626";
const GRID = "#d6d6d6";
panels.forEach((P, pi) => {
  const ys = v => P.bot - (v-P.ymin)/(P.ymax-P.ymin)*(P.bot-P.top);
  const g = mk("g", {});
  
  
  for (let h=1; h<24; h++){
    const l = mk("line",{x1:xs(h),x2:xs(h),y1:P.top,y2:P.bot,stroke:GRID,"stroke-width":3},g);
    
    
  }
  P.ticks.forEach(v => {
    if (v===P.ymin) return;
    const l = mk("line",{x1:X0,x2:X1,y1:ys(v),y2:ys(v),stroke:GRID,"stroke-width":3},g);
    
    
  });
  const cp = mk("clipPath",{id:"clip"+pi},g);
  mk("rect",{x:X0,y:P.top,width:X1-X0,height:P.bot-P.top},cp);
  const sg = mk("g",{"clip-path":"url(#clip"+pi+")"},g);
  
  
  P.vals.forEach((arr, si) => {
    let d = "";
    arr.forEach((v,i) => {
      const t = P.t0[si] + i*P.dt[si];
      d += (i?"L":"M") + xs(t).toFixed(1) + "," + ys(v).toFixed(1);
    });
    const path = mk("path",{d:d,fill:"none",stroke:jet(P.prn[si]),"stroke-width":2.2,"stroke-linejoin":"round"},sg);
    
    
  });
  for (let m=0; m<=144; m++){
    const t = m/6, major = (m%6===0), L = major?17:9, w = major?4:3;
    if (m===0||m===144) continue;
    mk("line",{x1:xs(t),x2:xs(t),y1:P.top,y2:P.top+L,stroke:AX,"stroke-width":w},g);
    mk("line",{x1:xs(t),x2:xs(t),y1:P.bot,y2:P.bot-L,stroke:AX,"stroke-width":w},g);
  }
  const nMin = Math.round((P.ymax-P.ymin)/P.minor)+2;
  const start = Math.ceil(P.ymin/P.minor);
  for (let k=start; k<start+nMin; k++){
    const v = k*P.minor;
    if (v<=P.ymin+1e-9 || v>=P.ymax) continue;
    const major = P.ticks.some(tv => Math.abs(tv-v)<1e-6);
    const L = major?17:9, w = major?4:3;
    mk("line",{x1:X0,x2:X0+L,y1:ys(v),y2:ys(v),stroke:AX,"stroke-width":w},g);
    mk("line",{x1:X1,x2:X1-L,y1:ys(v),y2:ys(v),stroke:AX,"stroke-width":w},g);
  }
  const box = mk("rect",{x:X0,y:P.top,width:X1-X0,height:P.bot-P.top,fill:"none",stroke:AX,"stroke-width":4},g);
  
  
  P.ticks.forEach(v => {
    const tx = mk("text",{x:180,y:ys(v)+10,"text-anchor":"end","font-size":28,fill:AX},g);
    tx.textContent = P.fmt(v);
    
    
  });
});
hourLabels.forEach((lab, h) => {
  const tx = mk("text",{x:xs(h),y:1186,"text-anchor":"middle","font-size":28,fill:AX});
  tx.textContent = lab;
  
  
});
const ut = mk("text",{x:951,y:1226,"text-anchor":"middle","font-size":28,fill:AX});
ut.textContent = "UT";



function ytitle(name, cx, cy){
  const t = mk("text",{x:0,y:0,"text-anchor":"middle","font-size":31,fill:AX,transform:"translate("+cx+","+cy+") rotate(-90)"});
  
  
  return t;
}
const t1 = ytitle('vtec-y-axis-title', 141, 257); t1.textContent = "VTEC[TECU]";
const t2 = ytitle('rot-y-axis-title', 146, 511); t2.textContent = "ROT [TECU/min]";
const t3 = ytitle('s4-y-axis-title', 116, 767);
t3.innerHTML = 'S<tspan font-size="22" dy="9">4</tspan><tspan dy="-9"> ("ism.mat")</tspan>';
const t4 = ytitle('sigma-y-axis-title', 116, 1019);
t4.innerHTML = '<tspan font-style="italic" font-weight="normal">σ</tspan><tspan font-size="22" dy="9" font-style="italic" font-weight="normal">φ</tspan><tspan dy="-9">[rad]</tspan>';

const CBX = 1732, CBW = 21, CBT = 253, CBB = 1019;
const cb = mk("g",{});


for (let p=1; p<=32; p++){
  const h = (CBB-CBT)/32;
  mk("rect",{x:CBX,y:CBB-p*h,width:CBW,height:h+0.6,fill:jet(p)},cb);
}
mk("rect",{x:CBX,y:CBT,width:CBW,height:CBB-CBT,fill:"none",stroke:AX,"stroke-width":3},cb);
const cbY = v => CBB - (v-1)/31*(CBB-CBT);
cbTicks.forEach(v => {
  mk("line",{x1:CBX+4,x2:CBX+CBW,y1:cbY(v),y2:cbY(v),stroke:AX,"stroke-width":2},cb);
  const tx = mk("text",{x:1766,y:cbY(v)+10,"font-size":28,fill:AX},cb);
  tx.textContent = String(v);
  
  
});
const cbt = mk("text",{x:1720,y:236,"font-size":28,fill:"#000"},cb);
cbt.textContent = "#PRN";


</script>
</body></html>
